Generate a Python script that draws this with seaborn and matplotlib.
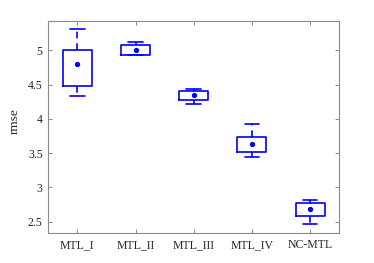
import matplotlib
matplotlib.use("Agg")
import matplotlib.pyplot as plt
import seaborn as sns

sns.set_style("ticks")
plt.rcParams['font.family'] = ['Liberation Serif', 'DejaVu Serif']

# values
models = ['MTL_I', 'MTL_II', 'MTL_III', 'MTL_IV', 'NC-MTL']
whisker_low = [4.33, 4.93, 4.22, 3.44, 2.46]
q1 = [4.48, 4.93, 4.27, 3.52, 2.58]
q3 = [5.01, 5.07, 4.41, 3.73, 2.77]
whisker_high = [5.31, 5.12, 4.43, 3.92, 2.82]
means = [4.80, 5.01, 4.34, 3.63, 2.68]

stats = []
for i in range(len(models)):
    stats.append({'label': models[i], 'whislo': whisker_low[i], 'q1': q1[i],
                  'med': means[i], 'q3': q3[i], 'whishi': whisker_high[i],
                  'mean': means[i], 'fliers': []})

fig = plt.figure(figsize=(3.74, 2.63), dpi=100)
ax = fig.add_axes([0.129, 0.113, 0.778, 0.808])

blue = (0, 0, 1)
ax.bxp(stats, positions=range(1, 6), widths=0.5, capwidths=0.25,
       showmeans=True, showfliers=False,
       boxprops={'color': blue, 'linewidth': 1.2},
       whiskerprops={'color': blue, 'linewidth': 1.2, 'linestyle': (0, (4, 3))},
       capprops={'color': blue, 'linewidth': 1.2},
       medianprops={'visible': False},
       meanprops={'marker': 'o', 'markerfacecolor': blue, 'markeredgecolor': blue,
                  'markersize': 2.8})

ax.set_xlim(0.5, 5.5)
ax.set_ylim(2.33, 5.43)
ax.set_yticks([2.5, 3, 3.5, 4, 4.5, 5])
ax.set_yticklabels(['2.5', '3', '3.5', '4', '4.5', '5'])
ax.set_ylabel('rmse', fontsize=9.5, labelpad=2)
ax.yaxis.set_label_coords(-0.095, 0.53)
ax.tick_params(direction='in', top=True, right=True, length=3, width=0.6,
               color='#777777', labelsize=8.5, pad=4)
for s in ax.spines.values():
    s.set_color('#8a8a8a')
    s.set_linewidth(0.8)

fig.savefig('out.png', dpi=100)
